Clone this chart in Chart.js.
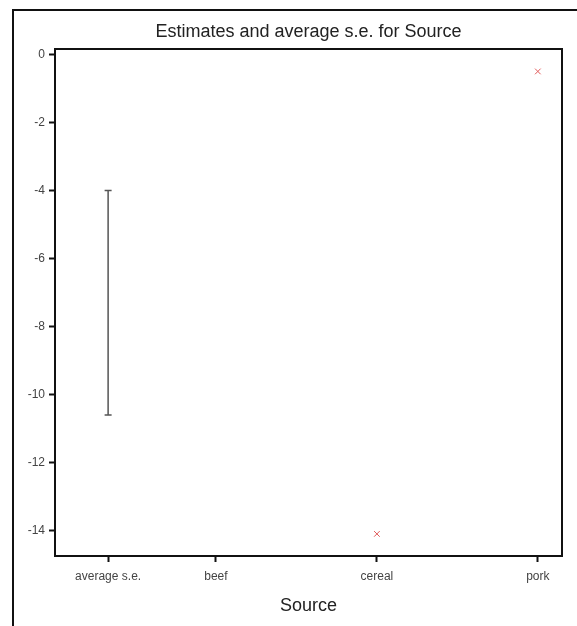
<!DOCTYPE html>
<html>
<head>
<meta charset="utf-8">
<script src="https://cdn.jsdelivr.net/npm/chart.js@4/dist/chart.umd.min.js"></script>
<style>
  html, body { margin: 0; padding: 0; background: #ffffff; }
  #wrap { position: relative; width: 577px; height: 626px; }
  canvas { display: block; }
</style>
</head>
<body>
<div id="wrap"><canvas id="c" width="577" height="626"></canvas></div>
<script>
// Factor levels of Source and where they sit along the x axis
const categories = ['average s.e.', 'beef', 'cereal', 'pork'];
const positions = [0.33, 1, 2, 3];
// Estimated effects (beef is the reference level, average s.e. has no point)
const estimates = [null, null, -14.1, -0.5];
// Vertical bar showing the average standard error
const seBar = [-4.0, -10.6];
// Y axis tick values
const yTicks = [0, -2, -4, -6, -8, -10, -12, -14];

const points = [];
categories.forEach((c, i) => {
  if (estimates[i] !== null) points.push({ x: positions[i], y: estimates[i] });
});

const FONT = "'Liberation Sans', Arial, sans-serif";

const decorations = {
  id: 'decorations',
  afterDatasetsDraw(chart) {
    const { ctx, chartArea: a, scales } = chart;
    ctx.save();
    // standard error bar
    const x = scales.x.getPixelForValue(positions[0]);
    const y1 = scales.y.getPixelForValue(seBar[0]);
    const y2 = scales.y.getPixelForValue(seBar[1]);
    ctx.strokeStyle = '#555';
    ctx.lineWidth = 1.5;
    ctx.beginPath();
    ctx.moveTo(x, y1); ctx.lineTo(x, y2);
    ctx.moveTo(x - 3.5, y1); ctx.lineTo(x + 3.5, y1);
    ctx.moveTo(x - 3.5, y2); ctx.lineTo(x + 3.5, y2);
    ctx.stroke();
    // box round the plotting area
    ctx.strokeStyle = '#111';
    ctx.lineWidth = 2;
    ctx.strokeRect(a.left, a.top, a.right - a.left, a.bottom - a.top);
    // outer frame
    ctx.lineWidth = 2;
    ctx.beginPath();
    ctx.moveTo(13, 640); ctx.lineTo(13, 10); ctx.lineTo(590, 10);
    ctx.stroke();
    // title
    ctx.fillStyle = '#222';
    ctx.font = '18px ' + FONT;
    ctx.textAlign = 'center';
    ctx.textBaseline = 'alphabetic';
    ctx.fillText('Estimates and average s.e. for Source', (a.left + a.right) / 2, 37);
    ctx.restore();
  }
};

new Chart(document.getElementById('c'), {
  type: 'scatter',
  data: {
    datasets: [{
      data: points,
      pointStyle: 'crossRot',
      pointRadius: 4,
      pointHoverRadius: 4,
      borderColor: '#e05a5a',
      backgroundColor: '#e05a5a',
      borderWidth: 1,
      clip: false
    }]
  },
  options: {
    responsive: false,
    animation: false,
    devicePixelRatio: 1,
    layout: { padding: { left: 0, top: 49, right: 15, bottom: 0 } },
    plugins: { legend: { display: false }, tooltip: { enabled: false }, title: { display: false } },
    scales: {
      x: {
        type: 'linear',
        min: 0,
        max: 3.15,
        afterBuildTicks(scale) { scale.ticks = positions.map(v => ({ value: v })); },
        afterFit(scale) { scale.height = 70; },
        grid: { display: true, drawOnChartArea: false, drawTicks: true, tickLength: 6, tickWidth: 2, tickColor: '#111' },
        border: { display: true, color: '#111', width: 2 },
        ticks: {
          padding: 7,
          maxRotation: 0,
          autoSkip: false,
          color: '#444',
          font: { family: FONT, size: 12 },
          callback(value) {
            const i = positions.findIndex(p => Math.abs(p - value) < 1e-6);
            return i >= 0 ? categories[i] : '';
          }
        },
        title: {
          display: true,
          text: 'Source',
          color: '#222',
          font: { family: FONT, size: 18 },
          padding: { top: 0, bottom: 9 }
        }
      },
      y: {
        type: 'linear',
        min: -14.75,
        max: 0.16,
        afterBuildTicks(scale) { scale.ticks = yTicks.map(v => ({ value: v })); },
        afterFit(scale) { scale.width = 55; },
        grid: { display: true, drawOnChartArea: false, drawTicks: true, tickLength: 6, tickWidth: 2, tickColor: '#111' },
        border: { display: true, color: '#111', width: 2 },
        ticks: {
          padding: 4,
          color: '#444',
          font: { family: FONT, size: 12 }
        }
      }
    }
  },
  plugins: [decorations]
});
</script>
</body>
</html>
